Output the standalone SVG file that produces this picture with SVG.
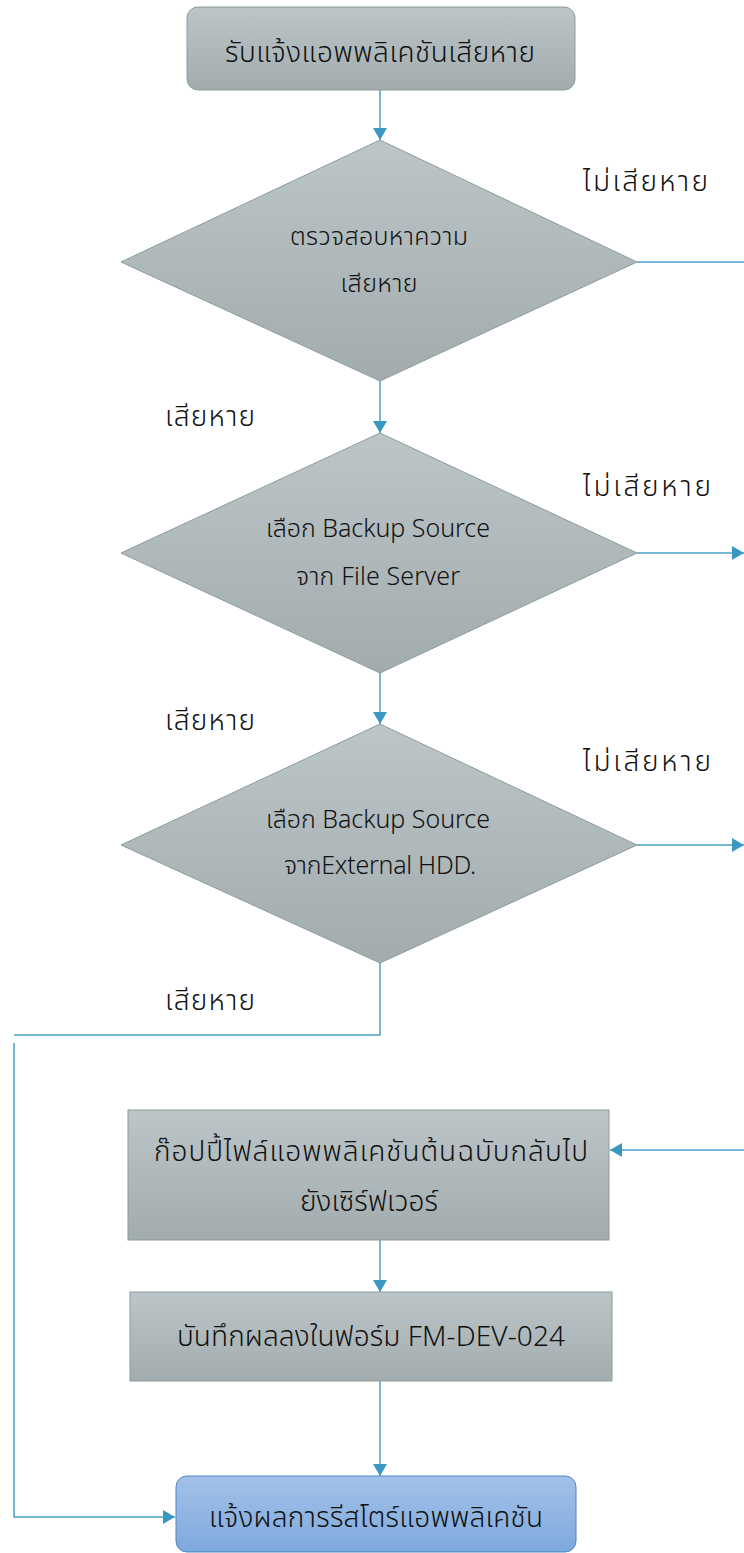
<svg xmlns="http://www.w3.org/2000/svg" width="744" height="1553" viewBox="0 0 744 1553">
<defs>
<linearGradient id="gGray" x1="0" y1="0" x2="0" y2="1">
<stop offset="0" stop-color="#bcc5c7"/>
<stop offset="1" stop-color="#a2acae"/>
</linearGradient>
<linearGradient id="gBlue" x1="0" y1="0" x2="0" y2="1">
<stop offset="0" stop-color="#a4c1e8"/>
<stop offset="1" stop-color="#7ea9dd"/>
</linearGradient>
<marker id="arrB" viewBox="0 0 12 14" refX="12" refY="7" markerWidth="12" markerHeight="14" markerUnits="userSpaceOnUse" orient="auto">
<path d="M0,0 L12,7 L0,14 z" fill="#3a97bf"/>
</marker>
</defs>
<style>
.box{fill:url(#gGray);stroke:#8c9b9c;stroke-width:1}
.blue{fill:url(#gBlue);stroke:#4a86c6;stroke-width:1}
.t{font-family:"Noto Sans Thai","Noto Sans","DejaVu Sans",sans-serif;font-weight:300;fill:#111;text-anchor:middle}
.big{font-size:28px}
.sm{font-size:25px}
.lbl{font-family:"Noto Sans Thai","Noto Sans","DejaVu Sans",sans-serif;font-weight:300;fill:#111;font-size:28px}
.c{fill:none;stroke:#4aa0c6;stroke-width:1.5}
</style>
<rect width="744" height="1553" fill="#ffffff"/>
<g id="connectors">
<path class="c" d="M380,90 V140" marker-end="url(#arrB)"/>
<path class="c" d="M637,262 H744"/>
<path class="c" d="M380,381 V433" marker-end="url(#arrB)"/>
<path class="c" d="M637,553 H744" marker-end="url(#arrB)"/>
<path class="c" d="M380,673 V724" marker-end="url(#arrB)"/>
<path class="c" d="M637,845 H744" marker-end="url(#arrB)"/>
<path class="c" d="M380,963 V1035 H14"/>
<path class="c" d="M14,1043 V1517 H175" marker-end="url(#arrB)"/>
<path class="c" d="M744,1150 H610" marker-end="url(#arrB)"/>
<path class="c" d="M380,1240 V1292" marker-end="url(#arrB)"/>
<path class="c" d="M380,1381 V1476" marker-end="url(#arrB)"/>
</g>
<g id="n1">
<rect class="box" x="187" y="7" width="388" height="83" rx="11"/>
<text class="t big" x="380" y="62" textLength="310">รับแจ้งแอพพลิเคชันเสียหาย</text>
</g>
<g id="d1">
<polygon class="box" points="380,140 637,262 380,381 121,262"/>
<text class="t sm" x="379" y="245" textLength="178">ตรวจสอบหาความ</text>
<text class="t sm" x="379" y="292" textLength="77">เสียหาย</text>
</g>
<g id="d2">
<polygon class="box" points="380,433 637,553 380,673 121,553"/>
<text class="t sm" x="378" y="537" textLength="224">เลือก Backup Source</text>
<text class="t sm" x="378" y="585" textLength="164">จาก File Server</text>
</g>
<g id="d3">
<polygon class="box" points="380,724 637,845 380,963 121,845"/>
<text class="t sm" x="378" y="828" textLength="224">เลือก Backup Source</text>
<text class="t sm" x="380" y="874" textLength="192">จากExternal HDD.</text>
</g>
<g id="n4">
<rect class="box" x="128" y="1110" width="481" height="130"/>
<text class="t big" x="371" y="1161" textLength="434">ก๊อปปี้ไฟล์แอพพลิเคชันต้นฉบับกลับไป</text>
<text class="t big" x="369" y="1211" textLength="138">ยังเซิร์ฟเวอร์</text>
</g>
<g id="n5">
<rect class="box" x="130" y="1292" width="482" height="89"/>
<text class="t big" x="371" y="1346" textLength="388">บันทึกผลลงในฟอร์ม FM-DEV-024</text>
</g>
<g id="n6">
<rect class="blue" x="176" y="1476" width="400" height="76" rx="11"/>
<text class="t big" x="376" y="1527" textLength="334">แจ้งผลการรีสโตร์แอพพลิเคชัน</text>
</g>
<g id="labels">
<text class="lbl" x="583" y="191" textLength="125">ไม่เสียหาย</text>
<text class="lbl" x="165" y="426" textLength="90">เสียหาย</text>
<text class="lbl" x="583" y="496" textLength="128">ไม่เสียหาย</text>
<text class="lbl" x="165" y="730" textLength="90">เสียหาย</text>
<text class="lbl" x="583" y="771" textLength="128">ไม่เสียหาย</text>
<text class="lbl" x="165" y="1010" textLength="90">เสียหาย</text>
</g>
</svg>
